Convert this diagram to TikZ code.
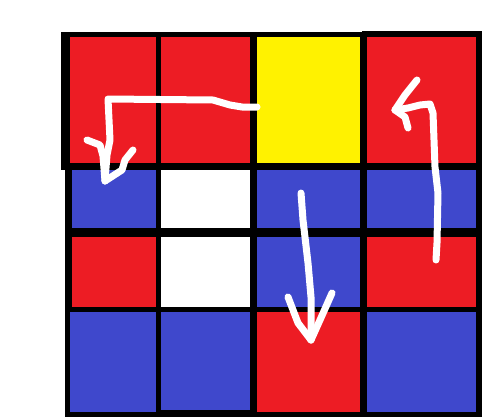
\documentclass[tikz,border=0pt]{standalone}
\usepackage{tikz}

\definecolor{paintred}{RGB}{237,28,36}
\definecolor{paintyellow}{RGB}{255,242,0}
\definecolor{paintblue}{RGB}{63,72,204}

\begin{document}
\begin{tikzpicture} [x=1pt, y=-1pt]
    \tikzstyle{cell} = [anchor=north west, inner sep=0pt, outer sep=0pt, draw=none]
    \tikzstyle{stroke} = [white, line width=7pt, line cap=round, line join=round]
    \useasboundingbox (0,0) rectangle (493,418);
    % black frame
    \fill[black] (61,32) rectangle (482,170);
    \fill[black] (362,31) rectangle (482,40);
    \fill[black] (65,163) rectangle (482,417);
    % row 1
    \node [cell, fill=paintred, minimum width=86pt, minimum height=126pt] (a1) at (70,37) {};
    \node [cell, fill=paintred, minimum width=89pt, minimum height=126pt] (a2) at (161,37) {};
    \node [cell, fill=paintyellow, minimum width=103pt, minimum height=126pt] (a3) at (257,37) {};
    \node [cell, fill=paintred, minimum width=109pt, minimum height=126pt] (a4) at (367,37) {};
    % row 2
    \node [cell, fill=paintblue, minimum width=84pt, minimum height=58pt] (b1) at (72,170) {};
    \node [cell, fill=white, minimum width=89pt, minimum height=58pt] (b2) at (161,170) {};
    \node [cell, fill=paintblue, minimum width=103pt, minimum height=58pt] (b3) at (257,170) {};
    \node [cell, fill=paintblue, minimum width=109pt, minimum height=58pt] (b4) at (367,170) {};
    % row 3
    \node [cell, fill=paintred, minimum width=84pt, minimum height=70pt] (c1) at (72,237) {};
    \node [cell, fill=white, minimum width=89pt, minimum height=70pt] (c2) at (161,237) {};
    \node [cell, fill=paintblue, minimum width=103pt, minimum height=70pt] (c3) at (257,237) {};
    \node [cell, fill=paintred, minimum width=109pt, minimum height=70pt] (c4) at (367,237) {};
    % row 4
    \node [cell, fill=paintblue, minimum width=86pt, minimum height=100pt] (d1) at (70,312) {};
    \node [cell, fill=paintblue, minimum width=89pt, minimum height=98pt] (d2) at (161,312) {};
    \node [cell, fill=paintred, minimum width=103pt, minimum height=100pt] (d3) at (257,312) {};
    \node [cell, fill=paintblue, minimum width=109pt, minimum height=100pt] (d4) at (367,312) {};
    % arrow ends
    \coordinate (s1) at (257,107);
    \coordinate (k1) at (108,99);
    \coordinate (t1) at (105,181);
    \coordinate (s2) at (301,193);
    \coordinate (t2) at (311,340);
    \coordinate (s3) at (436,260);
    \coordinate (t3) at (395,110);
    % yellow -> left
    \draw[stroke] (s1) -- (242,107) -- (230,105) -- (213,100) -- (k1) -- (110,140) -- (107,155) -- (t1);
    \draw[stroke] (87,140) -- (100,145) -- (103,156) -- (t1);
    \draw[stroke] (133,150) -- (125,160) -- (122,170) -- (t1);
    % middle, down
    \draw[stroke] (s2) -- (303,220) -- (308,263) -- (311,297) -- (t2);
    \draw[stroke] (288,297) -- (298,323) -- (t2);
    \draw[stroke] (332,293) -- (320,320) -- (t2);
    % right, up
    \draw[stroke] (s3) -- (437,243) -- (438,193) -- (435,167) -- (433,113) -- (430,104) -- (420,105) -- (408,108) -- (t3);
    \draw[stroke] (417,80) -- (405,95) -- (t3);
    \draw[stroke] (408,128) -- (405,117) -- (t3);
\end{tikzpicture}
\end{document}
